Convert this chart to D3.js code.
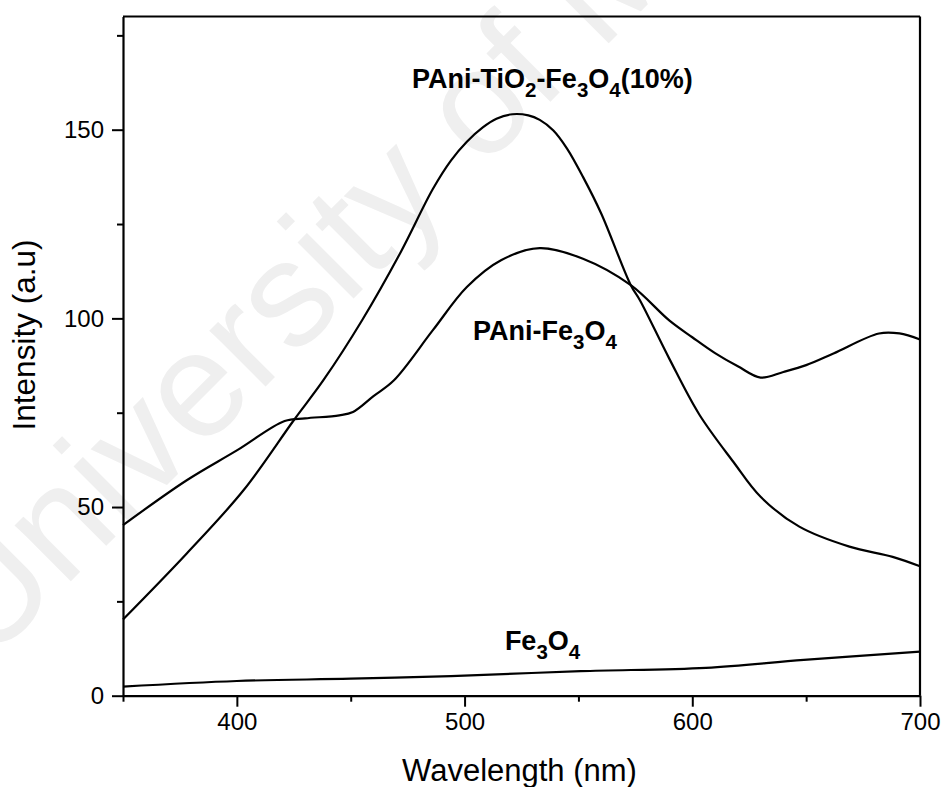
<!DOCTYPE html>
<html>
<head>
<meta charset="utf-8">
<script src="https://cdn.jsdelivr.net/npm/d3@7"></script>
<style>
  html, body { margin: 0; padding: 0; background: #fff; }
  svg { display: block; }
  text { font-family: "Liberation Sans", Arial, sans-serif; }
</style>
</head>
<body>
<svg id="chart" width="943" height="787"></svg>
<script>
// Photoluminescence spectra, wavelength (nm) vs intensity (a.u)
const wavelengthTiO2 = [350, 378, 403, 425, 438, 455, 472, 486, 494, 501, 508, 514, 521, 528, 533, 539, 545, 552, 560, 573, 577, 590, 603, 618, 630, 647, 669, 688, 700];
const intensityTiO2  = [20.2, 37.7, 54.5, 73.0, 83.6, 99.5, 117.6, 134.2, 141.8, 146.8, 150.6, 152.9, 154.1, 153.8, 152.6, 149.8, 145.0, 137.5, 127.8, 108.8, 104.8, 89.2, 74.6, 62.0, 52.7, 44.8, 39.5, 36.8, 34.3];

const wavelengthPAni = [350, 378, 400, 421, 430, 445, 451, 460, 469, 486, 501, 516, 533, 552, 573, 590, 600, 610, 620, 630, 640, 650, 662, 682, 691, 700];
const intensityPAni  = [45.2, 57.1, 65.0, 72.8, 73.5, 74.3, 75.2, 79.4, 83.6, 96.8, 108.3, 115.4, 118.6, 115.8, 108.8, 99.4, 95.0, 90.8, 87.3, 84.3, 85.8, 87.6, 90.7, 96.0, 96.0, 94.4];

const wavelengthFe = [350, 400, 450, 494, 551, 606, 649, 700];
const intensityFe  = [2.4, 3.9, 4.5, 5.2, 6.5, 7.4, 9.5, 11.7];

const xMajorTicks = [400, 500, 600, 700];
const xMinorTicks = [350, 450, 550, 650];
const yMajorTicks = [0, 50, 100, 150];
const yMinorTicks = [25, 75, 125, 175];

const xTitle = "Wavelength (nm)";
const yTitle = "Intensity (a.u)";

const svg = d3.select("#chart");
const plotLeft = 123, plotRight = 920, plotTop = 16.5, plotBottom = 695.7;

const x = d3.scaleLinear().domain([350, 700]).range([plotLeft, plotRight]);
const y = d3.scaleLinear().domain([0, 180]).range([plotBottom, plotTop]);

// faint repository watermark behind everything
svg.append("text")
  .attr("transform", "translate(-13,665) rotate(-45)")
  .attr("font-size", 150)
  .attr("fill", "#efefef")
  .text("University of Malaya");

const series = [
  { xs: wavelengthTiO2, ys: intensityTiO2 },
  { xs: wavelengthPAni, ys: intensityPAni },
  { xs: wavelengthFe, ys: intensityFe }
];

const line = d3.line()
  .x(d => x(d[0]))
  .y(d => y(d[1]))
  .curve(d3.curveCatmullRom.alpha(0.5));

svg.append("g").selectAll("path.spec")
  .data(series)
  .join("path")
  .attr("class", "spec")
  .attr("d", s => line(s.xs.map((v, i) => [v, s.ys[i]])))
  .attr("fill", "none")
  .attr("stroke", "#000")
  .attr("stroke-width", 2.2)
  .attr("stroke-linejoin", "round");

// frame: top and right edges
svg.append("line").attr("x1", plotLeft).attr("x2", plotRight).attr("y1", plotTop).attr("y2", plotTop)
  .attr("stroke", "#000").attr("stroke-width", 2.2);
svg.append("line").attr("x1", plotRight).attr("x2", plotRight).attr("y1", plotTop).attr("y2", plotBottom)
  .attr("stroke", "#000").attr("stroke-width", 2.2);

// bottom axis
svg.append("g").attr("transform", `translate(0,${plotBottom})`)
  .call(d3.axisBottom(x).tickValues(xMajorTicks).tickSize(11).tickSizeOuter(0).tickPadding(6).tickFormat(d3.format("d")));
svg.append("g").attr("transform", `translate(0,${plotBottom})`)
  .call(d3.axisBottom(x).tickValues(xMinorTicks).tickSize(6).tickSizeOuter(0).tickFormat(""))
  .select(".domain").remove();

// left axis
svg.append("g").attr("transform", `translate(${plotLeft},0)`)
  .call(d3.axisLeft(y).tickValues(yMajorTicks).tickSize(11).tickSizeOuter(0).tickPadding(8).tickFormat(d3.format("d")));
svg.append("g").attr("transform", `translate(${plotLeft},0)`)
  .call(d3.axisLeft(y).tickValues(yMinorTicks).tickSize(6).tickSizeOuter(0).tickFormat(""))
  .select(".domain").remove();

svg.selectAll(".domain").attr("stroke-width", 2.2).attr("stroke", "#000");
svg.selectAll(".tick line").attr("stroke-width", 2).attr("stroke", "#000");
svg.selectAll(".tick text")
  .attr("font-family", "'Liberation Sans', Arial, sans-serif")
  .attr("font-size", 24)
  .attr("fill", "#000");

// axis titles
svg.append("text")
  .attr("x", (plotLeft + plotRight) / 2 - 2)
  .attr("y", 781)
  .attr("text-anchor", "middle")
  .attr("font-size", 31)
  .text(xTitle);

svg.append("text")
  .attr("transform", "translate(35,335) rotate(-90)")
  .attr("text-anchor", "middle")
  .attr("font-size", 31.5)
  .text(yTitle);

// curve labels with chemical subscripts
function chemLabel(px, py, parts) {
  const t = svg.append("text")
    .attr("x", px).attr("y", py)
    .attr("font-size", 27)
    .attr("font-weight", "bold")
    .attr("fill", "#000");
  let shifted = false;
  parts.forEach(p => {
    const isSub = typeof p === "object";
    const ts = t.append("tspan").text(isSub ? p.sub : p);
    if (isSub && !shifted) { ts.attr("dy", 9).attr("font-size", 20.5); shifted = true; }
    else if (isSub) { ts.attr("font-size", 20.5); }
    else if (shifted) { ts.attr("dy", -9); shifted = false; }
  });
  return t;
}

chemLabel(x(476.9), y(161.0), ["PAni-TiO", {sub: "2"}, "-Fe", {sub: "3"}, "O", {sub: "4"}, "(10%)"]);
chemLabel(x(503.7), y(94.2), ["PAni-Fe", {sub: "3"}, "O", {sub: "4"}]);
chemLabel(x(517.7), y(12.1), ["Fe", {sub: "3"}, "O", {sub: "4"}]);
</script>
</body>
</html>
